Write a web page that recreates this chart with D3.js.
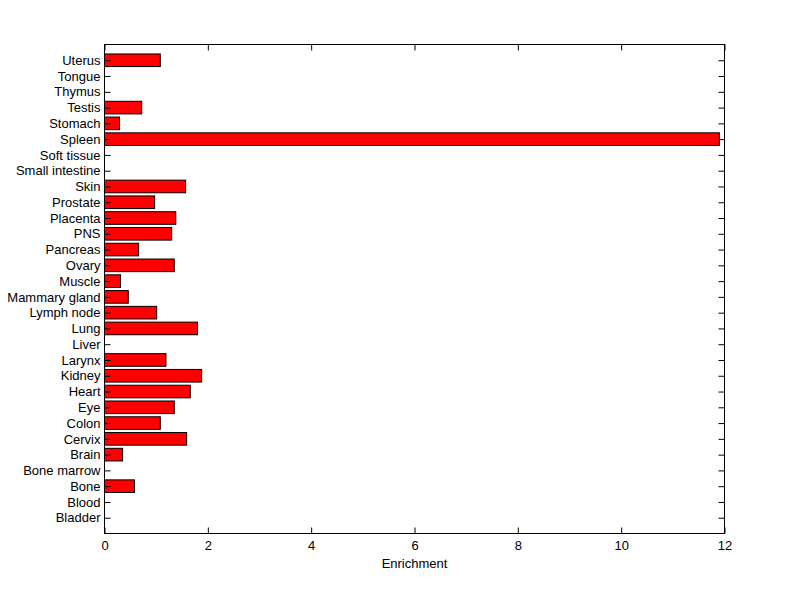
<!DOCTYPE html>
<html><head><meta charset="utf-8">
<script src="https://cdn.jsdelivr.net/npm/d3@7"></script>
<style>body{margin:0;background:#fff}svg{display:block}</style>
</head><body>
<script>
const categories = ["Bladder","Blood","Bone","Bone marrow","Brain","Cervix","Colon","Eye","Heart","Kidney","Larynx","Liver","Lung","Lymph node","Mammary gland","Muscle","Ovary","Pancreas","PNS","Placenta","Prostate","Skin","Small intestine","Soft tissue","Spleen","Stomach","Testis","Thymus","Tongue","Uterus"];
const values = [0,0,0.58,0,0.35,1.59,1.08,1.35,1.66,1.88,1.19,0,1.80,1.01,0.46,0.31,1.35,0.66,1.30,1.38,0.97,1.57,0,0,11.9,0.29,0.72,0,0,1.08];
const xTicks = [0,2,4,6,8,10,12];
const xLabel = "Enrichment";

const W = 800, H = 599;
const L = 104.5, R = 724.5, T = 44.5, B = 533.5;
const FONT = "Arial, 'Liberation Sans', sans-serif";
const svg = d3.select("body").append("svg").attr("width", W).attr("height", H)
  .style("font-family", FONT).style("font-size", "13px");

const x = d3.scaleLinear().domain([0, 12]).range([L, R]);
const y = d3.scaleLinear().domain([0, categories.length + 1]).range([B, T]);
const bh = (y(0) - y(0.8));

const rows = values.map((v, i) => ({ v, pos: i + 1 })).filter(d => d.v > 0);

// bars
svg.append("g").selectAll("rect").data(rows).join("rect")
  .attr("x", x(0)).attr("y", d => y(d.pos) - bh / 2)
  .attr("width", d => x(d.v) - x(0)).attr("height", bh)
  .attr("fill", "#ff0000").attr("stroke", "#000").attr("stroke-width", 1);

// box
svg.append("rect").attr("x", L).attr("y", T).attr("width", R - L).attr("height", B - T)
  .attr("fill", "none").attr("stroke", "#000").attr("stroke-width", 1);

const tl = 6;
const xb = d3.axisBottom(x).tickValues(xTicks).tickSizeInner(-tl).tickSizeOuter(0).tickPadding(tl + 1).tickFormat(d3.format("d"));
const gb = svg.append("g").attr("transform", `translate(0,${B})`).call(xb);
const xt = d3.axisTop(x).tickValues(xTicks).tickSizeInner(-tl).tickSizeOuter(0).tickFormat("");
const gt = svg.append("g").attr("transform", `translate(0,${T})`).call(xt);
const yIdx = categories.map((c, i) => i + 1);
const yl = d3.axisLeft(y).tickValues(yIdx).tickSizeInner(-tl).tickSizeOuter(0).tickPadding(4).tickFormat(d => categories[d - 1]);
const gl = svg.append("g").attr("transform", `translate(${L},0)`).call(yl);
const yr = d3.axisRight(y).tickValues(yIdx).tickSizeInner(-tl).tickSizeOuter(0).tickFormat("");
const gr = svg.append("g").attr("transform", `translate(${R},0)`).call(yr);

[gb, gt, gl, gr].forEach(g => {
  g.select(".domain").remove();
  g.selectAll("line").attr("stroke", "#000");
  g.selectAll("text").attr("fill", "#000").style("font-size", "13px").style("font-family", FONT);
});
gb.selectAll("text").attr("dy", "0.71em");

svg.append("text").attr("x", (x(0) + x(12)) / 2).attr("y", 568).attr("text-anchor", "middle")
  .attr("fill", "#000").text(xLabel);
</script>
</body></html>
